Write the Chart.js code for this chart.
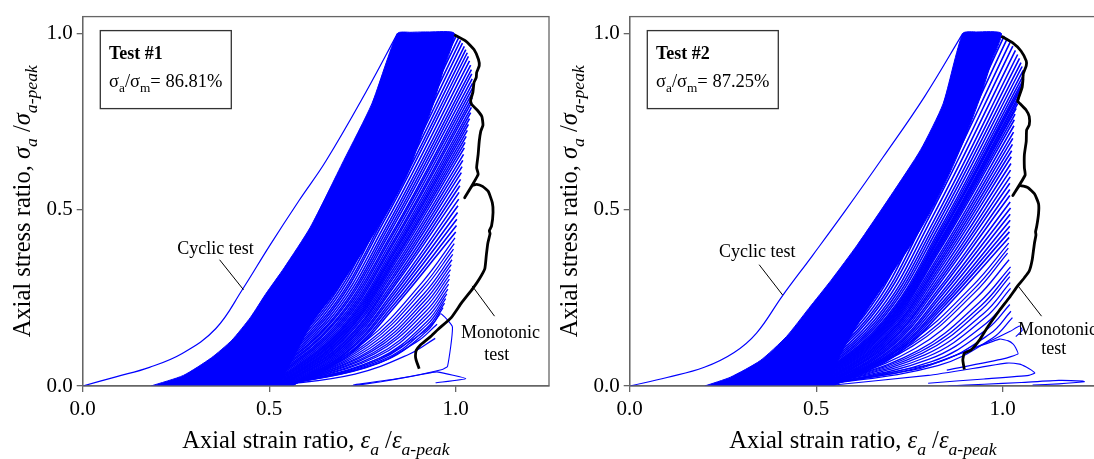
<!DOCTYPE html>
<html>
<head>
<meta charset="utf-8">
<script src="https://cdn.jsdelivr.net/npm/chart.js@4.4.0/dist/chart.umd.min.js"></script>
<style>
  body { margin: 0; background: #fff; width: 1094px; height: 459px; overflow: hidden; position: relative; }
  canvas { position: absolute; top: 0; }
  #c1 { left: 0; }
  #c2 { left: 547px; }
</style>
</head>
<body>
<canvas id="c1" width="555" height="459"></canvas>
<canvas id="c2" width="560" height="459"></canvas>
<script>
const SERIF = '"Liberation Serif", "Times New Roman", serif';
const BLUE = '#0000ff';
const AXIS = '#666';

const xTicks = [0, 0.5, 1.0];
const yTicks = [0, 0.5, 1.0];

// ---- Test #1 (left) ----
const test1FirstLoad = [0,0, 0.089,0.026, 0.179,0.053, 0.268,0.093, 0.357,0.163, 0.429,0.275,
  0.5,0.396, 0.58,0.526, 0.652,0.638, 0.759,0.833, 0.844,1.0];
const test1Core = [0.183,0, 0.27,0.03, 0.345,0.08, 0.40,0.13, 0.45,0.195, 0.49,0.26, 0.54,0.335,
  0.61,0.45, 0.70,0.64, 0.775,0.80, 0.844,1.0, 0.88,1.003, 0.93,1.004, 0.996,1.0,
  0.968,0.90, 0.94,0.80, 0.905,0.70, 0.87,0.60, 0.82,0.50, 0.75,0.38, 0.68,0.27, 0.615,0.18,
  0.565,0.08, 0.525,0];
// cycles reaching the upper envelope: residual, low point, half-height point, peak
const test1Cycles = [
  [0.400,0, 0.609,0.200, 0.770,0.500, 0.996,1.000], [0.405,0, 0.614,0.199, 0.775,0.497, 1.002,0.994],
  [0.410,0, 0.619,0.198, 0.781,0.494, 1.008,0.988], [0.415,0, 0.624,0.196, 0.786,0.490, 1.013,0.980],
  [0.420,0, 0.629,0.194, 0.791,0.486, 1.018,0.972], [0.425,0, 0.634,0.193, 0.796,0.482, 1.023,0.963],
  [0.430,0, 0.639,0.191, 0.800,0.477, 1.027,0.954], [0.435,0, 0.644,0.189, 0.805,0.473, 1.031,0.945],
  [0.440,0, 0.648,0.187, 0.808,0.468, 1.034,0.935], [0.445,0, 0.652,0.184, 0.812,0.461, 1.037,0.922],
  [0.450,0, 0.657,0.182, 0.816,0.455, 1.040,0.910], [0.455,0, 0.661,0.179, 0.819,0.449, 1.042,0.897],
  [0.460,0, 0.664,0.177, 0.822,0.443, 1.043,0.885], [0.465,0, 0.668,0.174, 0.824,0.436, 1.044,0.871],
  [0.470,0, 0.671,0.172, 0.827,0.429, 1.045,0.858], [0.475,0, 0.675,0.169, 0.828,0.423, 1.045,0.845],
  [0.480,0, 0.678,0.166, 0.830,0.416, 1.045,0.832], [0.485,0, 0.681,0.164, 0.832,0.409, 1.044,0.818],
  [0.490,0, 0.684,0.161, 0.833,0.403, 1.043,0.805], [0.495,0, 0.687,0.158, 0.834,0.395, 1.042,0.790],
  [0.500,0, 0.689,0.155, 0.835,0.388, 1.040,0.775], [0.503,0, 0.690,0.152, 0.834,0.379, 1.037,0.758],
  [0.506,0, 0.691,0.148, 0.833,0.371, 1.034,0.742], [0.509,0, 0.692,0.145, 0.833,0.363, 1.031,0.725],
  [0.512,0, 0.693,0.142, 0.832,0.354, 1.028,0.708], [0.515,0, 0.694,0.138, 0.831,0.346, 1.025,0.691],
  [0.518,0, 0.695,0.135, 0.831,0.338, 1.023,0.675], [0.521,0, 0.696,0.131, 0.831,0.329, 1.021,0.657],
  [0.524,0, 0.697,0.128, 0.831,0.320, 1.019,0.640], [0.527,0, 0.699,0.124, 0.831,0.311, 1.017,0.622],
  [0.530,0, 0.700,0.121, 0.831,0.303, 1.015,0.605], [0.533,0, 0.701,0.117, 0.831,0.293, 1.013,0.586],
  [0.536,0, 0.702,0.114, 0.831,0.284, 1.011,0.568], [0.539,0, 0.704,0.110, 0.830,0.275, 1.009,0.549],
  [0.542,0, 0.705,0.106, 0.831,0.265, 1.008,0.530], [0.545,0, 0.706,0.102, 0.831,0.256, 1.006,0.511],
  [0.548,0, 0.708,0.098, 0.831,0.246, 1.005,0.492], [0.551,0, 0.709,0.095, 0.831,0.237, 1.003,0.473],
  [0.554,0, 0.711,0.091, 0.832,0.228, 1.002,0.455], [0.557,0, 0.712,0.087, 0.832,0.219, 1.000,0.437]
];
// late cycles (leaves): residual, two points on the reload branch, peak
const test1Leaves = [
  [0.560,0, 0.757,0.126, 0.910,0.294, 0.998,0.420], [0.560,0, 0.761,0.121, 0.912,0.283, 0.996,0.404],
  [0.555,0, 0.763,0.116, 0.912,0.272, 0.994,0.388], [0.555,0, 0.767,0.112, 0.914,0.261, 0.992,0.373],
  [0.550,0, 0.770,0.107, 0.915,0.251, 0.990,0.358], [0.550,0, 0.774,0.103, 0.916,0.241, 0.988,0.344],
  [0.545,0, 0.776,0.099, 0.917,0.231, 0.986,0.330], [0.545,0, 0.780,0.095, 0.918,0.221, 0.984,0.316],
  [0.540,0, 0.782,0.091, 0.920,0.212, 0.983,0.303], [0.540,0, 0.787,0.087, 0.921,0.202, 0.981,0.289],
  [0.535,0, 0.789,0.083, 0.922,0.193, 0.979,0.275], [0.535,0, 0.793,0.078, 0.923,0.183, 0.976,0.261],
  [0.530,0, 0.794,0.074, 0.923,0.174, 0.973,0.248], [0.530,0, 0.798,0.071, 0.923,0.165, 0.970,0.235],
  [0.525,0, 0.798,0.067, 0.922,0.155, 0.966,0.222], [0.515,0, 0.76,0.052, 0.895,0.125, 0.950,0.175],
  [0.510,0, 0.73,0.034, 0.875,0.090, 0.945,0.135]
];
const test1LastCycles = [
  [0.515,0, 0.70,0.04, 0.82,0.09, 0.91,0.15, 0.945,0.185, 0.960,0.205, 0.991,0.168,
   0.978,0.056, 0.964,0.047, 0.85,0.022, 0.725,0.003],
  [0.72,0, 0.80,0.012, 0.88,0.027, 0.935,0.038, 0.95,0.040, 1.027,0.021, 0.946,0.009]
];
const test1Monotonic = [0.996,0.996, 1.027,0.978, 1.049,0.954, 1.061,0.926, 1.063,0.908, 1.056,0.889,
  1.055,0.875, 1.049,0.861, 1.046,0.833, 1.040,0.810, 1.043,0.798, 1.058,0.782, 1.070,0.764,
  1.073,0.740, 1.067,0.722, 1.063,0.694, 1.060,0.656, 1.056,0.619, 1.060,0.600, 1.024,0.534,
  1.044,0.568, 1.056,0.572, 1.072,0.566, 1.087,0.552, 1.098,0.520, 1.100,0.492, 1.096,0.454,
  1.090,0.440, 1.092,0.432, 1.086,0.405, 1.082,0.371, 1.078,0.333, 1.064,0.305, 1.046,0.277,
  1.015,0.235, 0.988,0.194, 0.953,0.161, 0.930,0.138, 0.904,0.115, 0.894,0.101, 0.892,0.085,
  0.894,0.073, 0.902,0.049];

// ---- Test #2 (right) ----
const test2FirstLoad = [0,0, 0.1,0.024, 0.2,0.053, 0.28,0.095, 0.34,0.15, 0.409,0.255,
  0.49,0.37, 0.58,0.50, 0.68,0.65, 0.79,0.82, 0.893,1.0];
const test2Core = [0.201,0, 0.27,0.025, 0.35,0.072, 0.42,0.14, 0.48,0.22, 0.54,0.30, 0.61,0.40,
  0.70,0.54, 0.78,0.67, 0.84,0.80, 0.893,1.0, 0.93,1.004, 0.996,1.0,
  0.97,0.92, 0.94,0.82, 0.905,0.72, 0.865,0.62, 0.82,0.52, 0.76,0.41, 0.69,0.30, 0.62,0.19,
  0.565,0.09, 0.53,0];
const test2Cycles = [
  [0.420,0, 0.622,0.200, 0.777,0.500, 0.996,1.000], [0.425,0, 0.628,0.199, 0.784,0.497, 1.004,0.993],
  [0.430,0, 0.634,0.197, 0.791,0.493, 1.012,0.985], [0.435,0, 0.640,0.195, 0.798,0.488, 1.020,0.975],
  [0.440,0, 0.645,0.193, 0.804,0.482, 1.027,0.964], [0.445,0, 0.651,0.190, 0.810,0.476, 1.034,0.952],
  [0.450,0, 0.657,0.188, 0.816,0.470, 1.040,0.940], [0.455,0, 0.662,0.186, 0.821,0.465, 1.045,0.929],
  [0.460,0, 0.666,0.183, 0.825,0.459, 1.049,0.917], [0.465,0, 0.670,0.181, 0.829,0.453, 1.052,0.906],
  [0.470,0, 0.675,0.179, 0.833,0.448, 1.055,0.895], [0.4725,0, 0.677,0.176, 0.834,0.441, 1.056,0.882],
  [0.475,0, 0.678,0.174, 0.835,0.435, 1.056,0.870], [0.4775,0, 0.679,0.171, 0.835,0.429, 1.053,0.857],
  [0.480,0, 0.680,0.169, 0.833,0.423, 1.050,0.845], [0.4825,0, 0.680,0.166, 0.833,0.415, 1.047,0.830],
  [0.485,0, 0.680,0.163, 0.831,0.408, 1.043,0.815], [0.4875,0, 0.681,0.160, 0.830,0.401, 1.040,0.801],
  [0.490,0, 0.681,0.157, 0.829,0.394, 1.036,0.787], [0.4925,0, 0.682,0.154, 0.828,0.386, 1.033,0.771],
  [0.495,0, 0.683,0.151, 0.827,0.378, 1.031,0.755], [0.4975,0, 0.684,0.148, 0.828,0.369, 1.030,0.738],
  [0.500,0, 0.685,0.144, 0.828,0.360, 1.029,0.720], [0.5025,0, 0.686,0.140, 0.828,0.351, 1.027,0.702],
  [0.505,0, 0.687,0.137, 0.828,0.343, 1.026,0.685], [0.5075,0, 0.688,0.133, 0.828,0.334, 1.024,0.667],
  [0.510,0, 0.690,0.130, 0.828,0.325, 1.023,0.650], [0.5125,0, 0.691,0.126, 0.829,0.316, 1.022,0.631],
  [0.515,0, 0.692,0.122, 0.829,0.306, 1.021,0.612], [0.5175,0, 0.693,0.119, 0.829,0.297, 1.020,0.593],
  [0.520,0, 0.695,0.115, 0.829,0.288, 1.019,0.575], [0.5225,0, 0.696,0.111, 0.831,0.279, 1.019,0.557],
  [0.525,0, 0.698,0.108, 0.831,0.270, 1.019,0.540], [0.5275,0, 0.700,0.104, 0.833,0.261, 1.020,0.522],
  [0.530,0, 0.702,0.101, 0.834,0.253, 1.021,0.505], [0.5325,0, 0.703,0.097, 0.835,0.244, 1.020,0.487],
  [0.535,0, 0.705,0.094, 0.836,0.235, 1.020,0.470], [0.5375,0, 0.706,0.091, 0.836,0.227, 1.019,0.453],
  [0.540,0, 0.707,0.087, 0.836,0.219, 1.018,0.437], [0.5425,0, 0.709,0.084, 0.837,0.211, 1.017,0.421]
];
const test2Leaves = [
  [0.530,0, 0.749,0.122, 0.919,0.284, 1.016,0.405], [0.528,0, 0.754,0.117, 0.922,0.274, 1.015,0.391],
  [0.525,0, 0.758,0.113, 0.924,0.264, 1.013,0.377], [0.522,0, 0.766,0.107, 0.930,0.251, 1.017,0.358],
  [0.520,0, 0.774,0.101, 0.937,0.237, 1.021,0.338], [0.5175,0, 0.779,0.097, 0.941,0.227, 1.020,0.324],
  [0.515,0, 0.785,0.093, 0.943,0.217, 1.019,0.310], [0.5125,0, 0.791,0.088, 0.948,0.205, 1.020,0.293],
  [0.510,0, 0.798,0.083, 0.953,0.194, 1.021,0.277], [0.5075,0, 0.803,0.076, 0.956,0.178, 1.020,0.254],
  [0.505,0, 0.809,0.069, 0.959,0.162, 1.019,0.231], [0.5025,0, 0.817,0.064, 0.966,0.148, 1.022,0.212],
  [0.500,0, 0.826,0.058, 0.973,0.136, 1.026,0.194]
];
const test2LastCycles = [
  [0.50,0, 0.80,0.06, 0.95,0.12, 1.02,0.155, 1.045,0.170, 1.052,0.158, 1.035,0.14],
  [0.50,0, 0.78,0.05, 0.93,0.11, 0.992,0.133, 1.015,0.128, 1.028,0.119, 1.035,0.108, 1.041,0.091,
   1.001,0.077, 0.85,0.045],
  [0.52,0, 0.80,0.03, 0.95,0.055, 1.01,0.065, 1.045,0.062, 1.063,0.054, 1.077,0.045, 1.086,0.037,
   1.07,0.03, 0.95,0.02, 0.80,0.008],
  [0.853,0, 0.95,0.005, 1.05,0.01, 1.15,0.016, 1.215,0.014, 1.219,0.012, 1.15,0.006, 1.08,0.003]
];
const test2Monotonic = [0.996,0.992, 1.027,0.973, 1.049,0.950, 1.063,0.922, 1.063,0.908, 1.055,0.885,
  1.054,0.866, 1.052,0.847, 1.043,0.819, 1.040,0.807, 1.046,0.801, 1.063,0.782, 1.071,0.764,
  1.071,0.740, 1.064,0.726, 1.063,0.694, 1.058,0.656, 1.058,0.619, 1.060,0.598, 1.027,0.540,
  1.045,0.568, 1.067,0.563, 1.085,0.545, 1.096,0.517, 1.096,0.489, 1.091,0.452, 1.088,0.438,
  1.089,0.428, 1.085,0.405, 1.079,0.358, 1.071,0.326, 1.058,0.307, 1.040,0.284, 1.018,0.251,
  0.991,0.214, 0.960,0.168, 0.9375,0.130, 0.915,0.102, 0.897,0.093, 0.893,0.074, 0.897,0.047];

const panels = [
  { id: 'c1', padRight: 6, name: 'Test #1', ratio: '86.81%',
    firstLoad: test1FirstLoad, core: test1Core, cycles: test1Cycles, leaves: test1Leaves,
    last: test1LastCycles, mono: test1Monotonic,
    cyclic: [0.356, 0.375, 0.367, 0.358, 0.431, 0.273],
    monoNote: [1.120, 0.135, 1.110, 0.0746, 1.104, 0.198, 1.044, 0.284] },
  { id: 'c2', padRight: 11, name: 'Test #2', ratio: '87.25%',
    firstLoad: test2FirstLoad, core: test2Core, cycles: test2Cycles, leaves: test2Leaves,
    last: test2LastCycles, mono: test2Monotonic,
    cyclic: [0.342, 0.366, 0.347, 0.344, 0.410, 0.258],
    monoNote: [1.147, 0.146, 1.137, 0.090, 1.104, 0.198, 1.041, 0.284] }
];

function toPoints(flat) {
  const out = [];
  for (let i = 0; i < flat.length; i += 2) out.push({ x: flat[i], y: flat[i + 1] });
  return out;
}

function drawRich(ctx, parts, x, y, size, align) {
  const fontOf = p => `${p.i ? 'italic ' : ''}${p.b ? 'bold ' : ''}${p.s ? size * 0.72 : size}px ${SERIF}`;
  let w = 0;
  parts.forEach(p => { ctx.font = fontOf(p); w += ctx.measureText(p.t).width; });
  let cx = align === 'center' ? x - w / 2 : x;
  ctx.textAlign = 'left';
  ctx.textBaseline = 'alphabetic';
  parts.forEach(p => {
    ctx.font = fontOf(p);
    ctx.fillText(p.t, cx, y + (p.s ? size * 0.3 : 0));
    cx += ctx.measureText(p.t).width;
  });
}

function decor(p) {
  return {
    id: 'decor',
    afterDraw(chart) {
      const { ctx, chartArea: a, scales: { x, y } } = chart;
      ctx.save();
      ctx.strokeStyle = AXIS;
      ctx.lineWidth = 1.3;
      ctx.strokeRect(a.left, a.top, a.right - a.left, a.bottom - a.top);

      // info box
      const bx = a.left + 17.6, by = a.top + 14, bw = 131, bh = 78;
      ctx.fillStyle = '#fff';
      ctx.fillRect(bx, by, bw, bh);
      ctx.strokeStyle = '#333';
      ctx.strokeRect(bx, by, bw, bh);
      ctx.fillStyle = '#000';
      drawRich(ctx, [{ t: p.name, b: 1 }], bx + 8.7, by + 28.3, 18, 'left');
      drawRich(ctx, [{ t: 'σ' }, { t: 'a', s: 1 }, { t: '/σ' }, { t: 'm', s: 1 }, { t: '= ' + p.ratio }],
        bx + 8.7, by + 56, 18.5, 'left');

      // notes + leaders
      const px = v => x.getPixelForValue(v), py = v => y.getPixelForValue(v);
      const c = p.cyclic, m = p.monoNote;
      drawRich(ctx, [{ t: 'Cyclic test' }], px(c[0]), py(c[1]), 18, 'center');
      drawRich(ctx, [{ t: 'Monotonic' }], px(m[0]), py(m[1]), 18, 'center');
      drawRich(ctx, [{ t: 'test' }], px(m[2]), py(m[3]), 18, 'center');
      ctx.strokeStyle = '#000';
      ctx.lineWidth = 1;
      ctx.beginPath();
      ctx.moveTo(px(c[2]), py(c[3])); ctx.lineTo(px(c[4]), py(c[5]));
      ctx.moveTo(px(m[4]), py(m[5])); ctx.lineTo(px(m[6]), py(m[7]));
      ctx.stroke();

      // axis titles
      const midX = (a.left + a.right) / 2, midY = (a.top + a.bottom) / 2;
      drawRich(ctx, [{ t: 'Axial strain ratio, ' }, { t: 'ε', i: 1 }, { t: 'a', i: 1, s: 1 }, { t: ' /' },
        { t: 'ε', i: 1 }, { t: 'a-peak', i: 1, s: 1 }], midX, 448, 24.5, 'center');
      ctx.translate(30, midY);
      ctx.rotate(-Math.PI / 2);
      drawRich(ctx, [{ t: 'Axial stress ratio, ' }, { t: 'σ', i: 1 }, { t: 'a', i: 1, s: 1 }, { t: ' /' },
        { t: 'σ', i: 1 }, { t: 'a-peak', i: 1, s: 1 }], 0, 0, 24.5, 'center');
      ctx.restore();
    }
  };
}

function buildDatasets(p) {
  const ds = [];
  ds.push({ data: toPoints(p.mono), borderColor: '#000', borderWidth: 2.8, tension: 0.15 });
  p.last.forEach(l => ds.push({ data: toPoints(l), borderColor: BLUE, borderWidth: 1.1, tension: 0.15 }));
  p.leaves.forEach(l => ds.push({ data: toPoints(l), borderColor: BLUE, borderWidth: 1.3, tension: 0.4 }));
  p.cycles.forEach(l => ds.push({ data: toPoints(l), borderColor: BLUE, borderWidth: 1.6, tension: 0.4 }));
  ds.push({ data: toPoints(p.firstLoad), borderColor: BLUE, borderWidth: 1.2, tension: 0.4 });
  ds.push({ data: toPoints(p.core), borderColor: BLUE, borderWidth: 1, backgroundColor: BLUE,
    fill: 'shape', tension: 0.2 });
  return ds;
}

function makeChart(p) {
  new Chart(document.getElementById(p.id), {
    type: 'line',
    data: { datasets: buildDatasets(p) },
    options: {
      responsive: false,
      animation: false,
      events: [],
      layout: { padding: { top: 11, right: p.padRight, left: 0, bottom: 0 } },
      elements: { point: { radius: 0 } },
      plugins: { legend: { display: false }, tooltip: { enabled: false } },
      scales: {
        x: {
          type: 'linear', min: 0, max: 1.25,
          afterBuildTicks: s => { s.ticks = xTicks.map(v => ({ value: v })); },
          afterFit: s => { s.height = 73; },
          ticks: { font: { family: SERIF, size: 21 }, color: '#000', padding: 5, maxRotation: 0,
            callback: v => v.toFixed(1) },
          grid: { drawOnChartArea: false, tickLength: 6, color: AXIS, lineWidth: 1.3 },
          border: { color: AXIS, width: 1.3 }
        },
        y: {
          type: 'linear', min: 0, max: 1.0475,
          afterBuildTicks: s => { s.ticks = yTicks.map(v => ({ value: v })); },
          afterFit: s => { s.width = 82.7; },
          ticks: { font: { family: SERIF, size: 21 }, color: '#000', padding: 4,
            callback: v => v.toFixed(1) },
          grid: { drawOnChartArea: false, tickLength: 6, color: AXIS, lineWidth: 1.3 },
          border: { color: AXIS, width: 1.3 }
        }
      }
    },
    plugins: [decor(p)]
  });
}

panels.forEach(makeChart);
</script>
</body>
</html>
